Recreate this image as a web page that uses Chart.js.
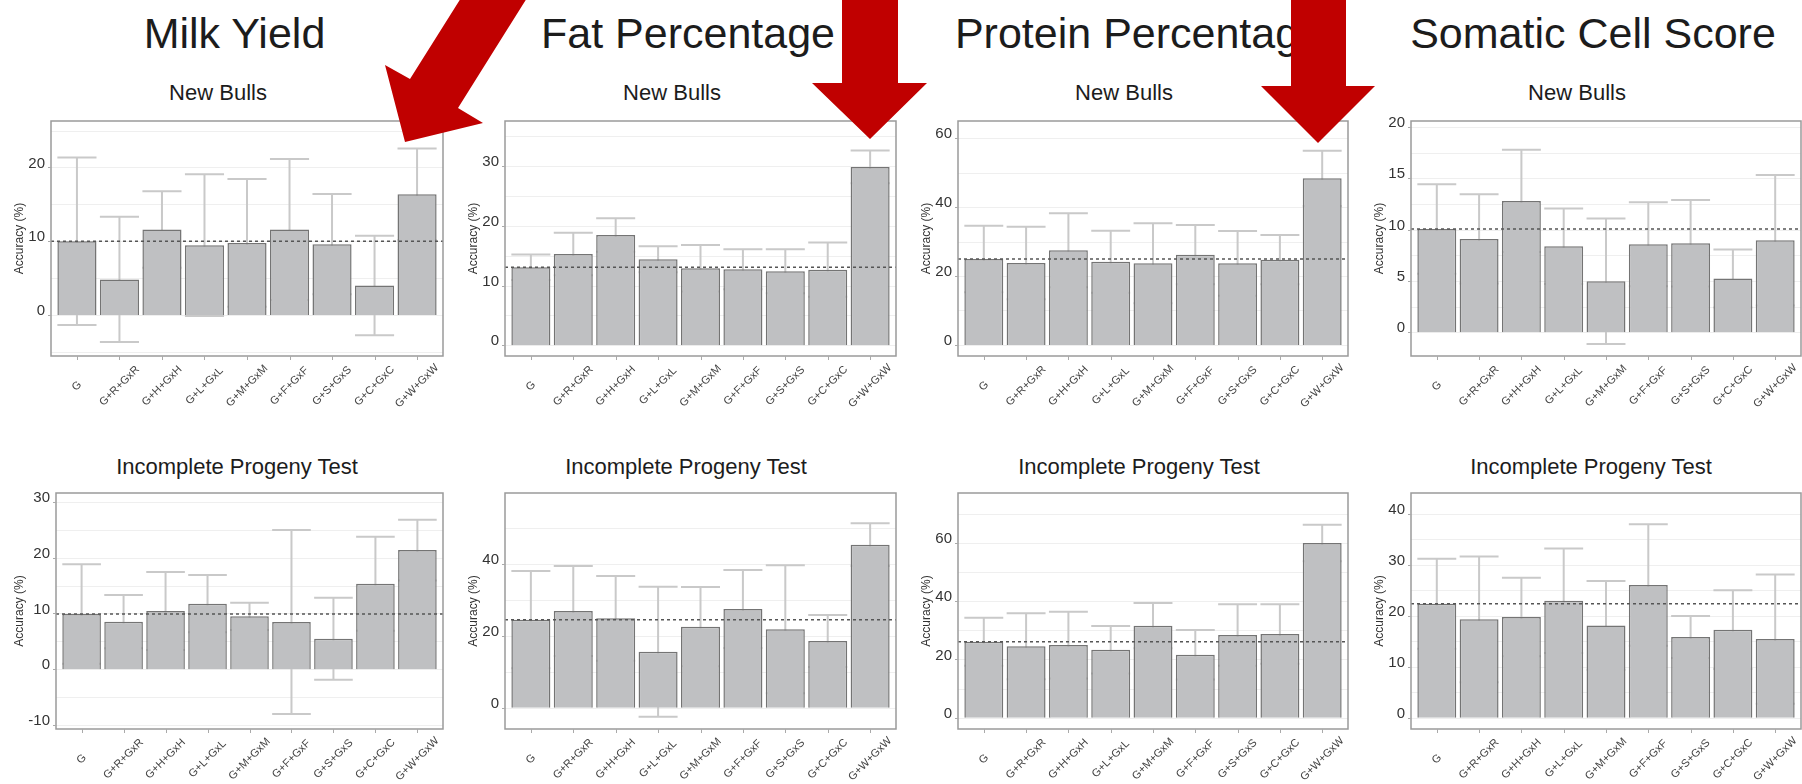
<!DOCTYPE html>
<html>
<head>
<meta charset="utf-8">
<script src="https://cdn.jsdelivr.net/npm/chart.js@4.4.1/dist/chart.umd.min.js"></script>
<style>
  html, body { margin: 0; padding: 0; background: #fff; overflow: hidden; }
  body { width: 1802px; height: 784px; position: relative; font-family: "Liberation Sans", Arial, sans-serif; }
  .trait { position: absolute; top: 11.6px; font-size: 43px; line-height: 43px; color: #1c1c1c; transform: translateX(-50%); white-space: nowrap; }
  .group { position: absolute; font-size: 22px; line-height: 22px; color: #1c1c1c; transform: translateX(-50%); white-space: nowrap; }
  canvas { position: absolute; }
  #arrows { position: absolute; left: 0; top: 0; z-index: 5; }
</style>
</head>
<body>
<svg id="arrows" width="1802" height="784">
  <polygon fill="#c00000" points="466,-10 532,-10 458,108 483,123 405,142 385,65 410,79"/>
  <polygon fill="#c00000" points="842,-5 898,-5 898,83 927,83 870,139 812,83 842,83"/>
  <polygon fill="#c00000" points="1291,-5 1346,-5 1346,86 1375,86 1318,143 1261,86 1291,86"/>
</svg>
<script>
// ---- data ----
const categories = ['G', 'G+R+GxR', 'G+H+GxH', 'G+L+GxL', 'G+M+GxM', 'G+F+GxF', 'G+S+GxS', 'G+C+GxC', 'G+W+GxW'];
const traitTitles = ['Milk Yield', 'Fat Percentage', 'Protein Percentage', 'Somatic Cell Score'];
const groupTitles = ['New Bulls', 'Incomplete Progeny Test'];

// accuracy (%) and error half-widths, New Bulls
const milkNewBulls      = [10.0, 4.82, 11.58, 9.46, 9.77, 11.58, 9.6, 4.0, 16.35];
const milkNewBullsErr   = [11.35, 8.48, 5.18, 9.6, 8.65, 9.55, 6.8, 6.75, 6.2];
const fatNewBulls       = [13.07, 15.31, 18.49, 14.41, 12.91, 12.74, 12.40, 12.68, 29.89];
const fatNewBullsErr    = [2.13, 3.57, 2.79, 2.18, 3.91, 3.35, 3.69, 4.53, 2.74];
const proteinNewBulls   = [24.93, 23.77, 27.44, 24.15, 23.67, 26.18, 23.67, 24.73, 48.3];
const proteinNewBullsErr= [9.66, 10.53, 10.72, 8.99, 11.6, 8.6, 9.37, 7.15, 8.03];
const scsNewBulls       = [10.06, 9.09, 12.79, 8.38, 4.97, 8.57, 8.67, 5.23, 8.96];
const scsNewBullsErr    = [4.35, 4.35, 4.97, 3.67, 6.1, 4.09, 4.22, 2.82, 6.36];

// accuracy (%) and error half-widths, Incomplete Progeny Test
const milkProgeny       = [9.91, 8.54, 10.45, 11.76, 9.49, 8.48, 5.49, 15.34, 21.37];
const milkProgenyErr    = [8.9, 4.77, 6.98, 5.14, 2.45, 16.48, 7.35, 8.42, 5.44];
const fatProgeny        = [24.49, 26.9, 24.86, 15.58, 22.54, 27.46, 21.8, 18.55, 45.36];
const fatProgenyErr     = [13.54, 12.52, 11.78, 18.09, 11.04, 10.85, 17.81, 7.24, 5.94];
const proteinProgeny    = [26.06, 24.46, 24.91, 23.31, 31.54, 21.6, 28.34, 28.69, 59.89];
const proteinProgenyErr = [8.23, 11.31, 11.43, 8.12, 7.77, 8.46, 10.52, 10.17, 6.28];
const scsProgeny        = [22.35, 19.28, 19.74, 22.94, 18.1, 26.01, 15.82, 17.25, 15.42];
const scsProgenyErr     = [8.83, 12.35, 7.71, 10.26, 8.7, 11.9, 4.11, 7.72, 12.68];

// value-axis ranges and tick steps per trait
const axisMinNewBulls  = [-5.55, -1.79, -3.19, -2.31];
const axisMaxNewBulls  = [26.29, 37.59, 64.93, 20.57];
const tickStepNewBulls = [10, 10, 20, 5];
const axisMinProgeny   = [-10.69, -5.93, -3.87, -2.22];
const axisMaxProgeny   = [31.58, 59.75, 77.03, 44.06];
const tickStepProgeny  = [10, 20, 20, 10];

// ---- layout ----
const FONT = '"Liberation Sans", Arial, sans-serif';
Chart.defaults.font.family = FONT;
const layout = {
  rows: [
    { top: 121, bottom: 356, left: [51, 505, 958, 1411], subX: [218, 672, 1124, 1577], subTop: 82.1 },
    { top: 493, bottom: 729, left: [56, 505, 958, 1411], subX: [237, 686, 1139, 1591], subTop: 455.7 }
  ],
  right: [443, 896, 1348, 1801],
  yTitleX: [20, 474, 927, 1380],
  traitX: [234.5, 688, 1139, 1593],
  axisWidth: 60, padTop: 16, padBottom: 60, padRight: 4
};

const rowsData = [
  { values: [milkNewBulls, fatNewBulls, proteinNewBulls, scsNewBulls],
    errors: [milkNewBullsErr, fatNewBullsErr, proteinNewBullsErr, scsNewBullsErr],
    min: axisMinNewBulls, max: axisMaxNewBulls, step: tickStepNewBulls },
  { values: [milkProgeny, fatProgeny, proteinProgeny, scsProgeny],
    errors: [milkProgenyErr, fatProgenyErr, proteinProgenyErr, scsProgenyErr],
    min: axisMinProgeny, max: axisMaxProgeny, step: tickStepProgeny }
];

// frame, faint grid, error bars, reference line, ticks and category labels
const panelDecor = {
  id: 'panelDecor',
  beforeDatasetsDraw(chart, args, opts) {
    const { ctx, chartArea: a, scales: { y } } = chart;
    ctx.save();
    ctx.strokeStyle = '#efefef';
    ctx.lineWidth = 1;
    const half = opts.step / 2;
    for (let v = Math.ceil(y.min / half) * half; v <= y.max; v += half) {
      const py = Math.round(y.getPixelForValue(v)) + 0.5;
      ctx.beginPath(); ctx.moveTo(a.left, py); ctx.lineTo(a.right, py); ctx.stroke();
    }
    const meta = chart.getDatasetMeta(0);
    ctx.strokeStyle = '#c9c9c9';
    ctx.lineWidth = 2;
    meta.data.forEach((bar, i) => {
      const v = opts.values[i], e = opts.errors[i];
      const hi = y.getPixelForValue(v + e), lo = y.getPixelForValue(v - e);
      const w = bar.width / 2;
      ctx.beginPath();
      ctx.moveTo(bar.x, hi); ctx.lineTo(bar.x, lo);
      ctx.moveTo(bar.x - w, hi); ctx.lineTo(bar.x + w, hi);
      ctx.moveTo(bar.x - w, lo); ctx.lineTo(bar.x + w, lo);
      ctx.stroke();
    });
    ctx.restore();
  },
  afterDatasetsDraw(chart, args, opts) {
    const { ctx, chartArea: a, scales: { y } } = chart;
    ctx.save();
    // reference line at the G accuracy
    const ry = y.getPixelForValue(opts.values[0]);
    ctx.strokeStyle = '#555';
    ctx.lineWidth = 1.6;
    ctx.setLineDash([3, 3]);
    ctx.beginPath(); ctx.moveTo(a.left, ry); ctx.lineTo(a.right, ry); ctx.stroke();
    ctx.setLineDash([]);
    // panel frame
    ctx.strokeStyle = '#9a9a9a';
    ctx.lineWidth = 1.5;
    ctx.strokeRect(a.left, a.top, a.right - a.left, a.bottom - a.top);
    // tick marks
    ctx.strokeStyle = '#aaa';
    ctx.lineWidth = 1;
    y.ticks.forEach(t => {
      const py = Math.round(y.getPixelForValue(t.value)) + 0.5;
      ctx.beginPath(); ctx.moveTo(a.left - 3, py); ctx.lineTo(a.left, py); ctx.stroke();
    });
    const meta = chart.getDatasetMeta(0);
    meta.data.forEach(bar => {
      const px = Math.round(bar.x) + 0.5;
      ctx.beginPath(); ctx.moveTo(px, a.bottom); ctx.lineTo(px, a.bottom + 4); ctx.stroke();
    });
    // rotated category labels
    ctx.fillStyle = '#444';
    ctx.font = '11px ' + FONT;
    ctx.textAlign = 'center';
    ctx.textBaseline = 'middle';
    meta.data.forEach((bar, i) => {
      ctx.save();
      ctx.translate(bar.x, a.bottom + 30);
      ctx.rotate(-Math.PI / 4);
      ctx.fillText(categories[i], 0, 0);
      ctx.restore();
    });
    ctx.restore();
  }
};

// titles
traitTitles.forEach((t, c) => {
  const d = document.createElement('div');
  d.className = 'trait';
  d.textContent = t;
  d.style.left = layout.traitX[c] + 'px';
  document.body.appendChild(d);
});

rowsData.forEach((row, r) => {
  const L = layout.rows[r];
  for (let c = 0; c < 4; c++) {
    const sub = document.createElement('div');
    sub.className = 'group';
    sub.textContent = groupTitles[r];
    sub.style.left = L.subX[c] + 'px';
    sub.style.top = L.subTop + 'px';
    document.body.appendChild(sub);

    const left = L.left[c], right = layout.right[c];
    const cv = document.createElement('canvas');
    cv.width = right - left + layout.axisWidth + layout.padRight;
    cv.height = L.bottom - L.top + layout.padTop + layout.padBottom;
    cv.style.left = (left - layout.axisWidth) + 'px';
    cv.style.top = (L.top - layout.padTop) + 'px';
    document.body.appendChild(cv);

    const values = row.values[c], errors = row.errors[c];
    const titlePad = layout.yTitleX[c] - left + layout.axisWidth - 7.2;

    new Chart(cv, {
      type: 'bar',
      data: {
        datasets: [{
          data: values.map((v, i) => ({ x: i, y: v })),
          backgroundColor: '#bfc0c2',
          borderColor: '#747474',
          borderWidth: 1.5,
          categoryPercentage: 1,
          barPercentage: 0.92
        }]
      },
      options: {
        responsive: false,
        animation: false,
        devicePixelRatio: 1,
        layout: { padding: { left: 0, top: layout.padTop, right: layout.padRight, bottom: layout.padBottom } },
        plugins: {
          legend: { display: false },
          tooltip: { enabled: false },
          panelDecor: { values, errors, step: row.step[c] }
        },
        scales: {
          x: {
            type: 'linear', display: false, offset: false,
            min: -0.61, max: 8.61,
            ticks: { stepSize: 1, includeBounds: false }
          },
          y: {
            type: 'linear',
            min: row.min[c], max: row.max[c],
            grid: { display: false, drawTicks: false },
            border: { display: false },
            ticks: {
              stepSize: row.step[c], includeBounds: false, padding: 6, labelOffset: -4,
              color: '#333', font: { size: 15, family: FONT }
            },
            title: {
              display: true, text: 'Accuracy (%)', color: '#333',
              font: { size: 12, family: FONT }, padding: { top: titlePad, bottom: 0 }
            },
            afterFit(scale) { scale.width = layout.axisWidth; }
          }
        }
      },
      plugins: [panelDecor]
    });
  }
});
</script>
</body>
</html>
